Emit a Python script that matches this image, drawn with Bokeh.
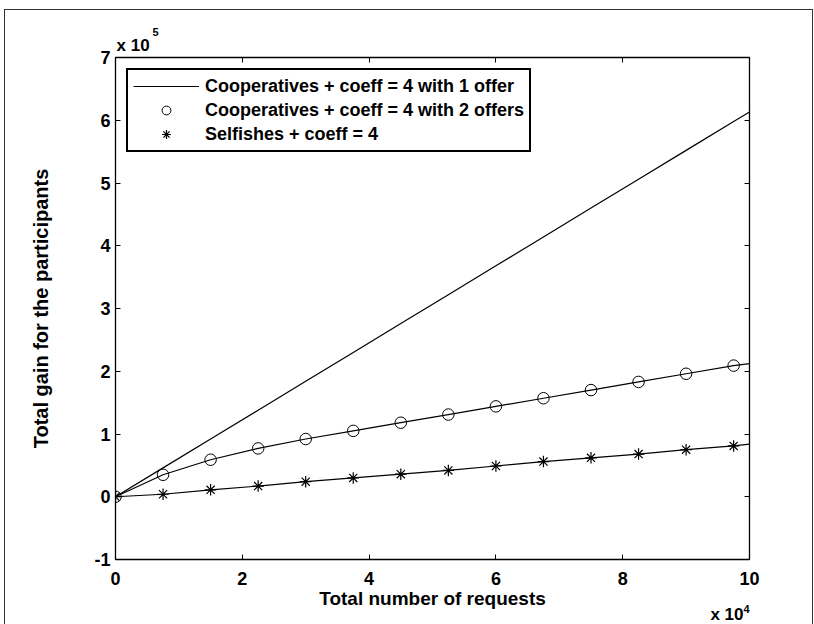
from bokeh.plotting import figure
from bokeh.models import Range1d, LinearAxis, Legend, LegendItem, Title, FixedTicker, CustomJSTickFormatter
from bokeh.embed import file_html
from bokeh.resources import INLINE

# ---- data (x in units of 1e4 requests, y in units of 1e5 gain) ----
x_line = [0, 0.75, 1.5, 2.25, 3, 3.75, 4.5, 5.25, 6, 6.75, 7.5, 8.25, 9, 9.75, 10]
coop_1offer = [0, 0.46, 0.92, 1.38, 1.84, 2.30, 2.76, 3.22, 3.68, 4.14, 4.60, 5.06, 5.52, 5.98, 6.13]

x_mark = [0, 0.75, 1.5, 2.25, 3, 3.75, 4.5, 5.25, 6, 6.75, 7.5, 8.25, 9, 9.75]
coop_2offers = [0, 0.35, 0.59, 0.77, 0.92, 1.05, 1.18, 1.31, 1.44, 1.57, 1.70, 1.83, 1.96, 2.09]
selfish = [0, 0.04, 0.11, 0.17, 0.24, 0.30, 0.36, 0.42, 0.49, 0.56, 0.62, 0.68, 0.75, 0.81]

x_fit = [0, 0.75, 1.5, 2.25, 3, 3.75, 4.5, 5.25, 6, 6.75, 7.5, 8.25, 9, 9.75, 10]
coop_2offers_fit = [0, 0.35, 0.59, 0.77, 0.92, 1.05, 1.18, 1.31, 1.44, 1.57, 1.70, 1.83, 1.96, 2.09, 2.12]
selfish_fit = [0, 0.04, 0.11, 0.17, 0.24, 0.30, 0.36, 0.42, 0.49, 0.56, 0.62, 0.68, 0.75, 0.81, 0.84]

x_ticks = [0, 2, 4, 6, 8, 10]
y_ticks = [-1, 0, 1, 2, 3, 4, 5, 6, 7]
y_tick_labels = {-1: "-1"}

labels = ["Cooperatives + coeff = 4 with 1 offer",
          "Cooperatives + coeff = 4 with 2 offers",
          "Selfishes + coeff = 4"]
exp_base = "x 10"
y_exp = "5"
x_exp = "4"

FONT = "Liberation Sans"

p = figure(width=807, height=614, x_range=Range1d(0, 10), y_range=Range1d(-1, 7),
           output_backend="svg", toolbar_location=None,
           min_border_left=110, min_border_right=63, min_border_top=47, min_border_bottom=65)
p.margin = (10, 0, 0, 5)
p.styles = {"outline": "1.5px solid #333333"}
p.background_fill_color = "white"
p.border_fill_color = "white"
p.grid.visible = False
p.outline_line_color = "black"
p.outline_line_width = 1.3

for ax in (p.xaxis[0], p.yaxis[0]):
    ax.major_tick_in = 5
    ax.major_tick_out = 0
    ax.minor_tick_line_color = None
    ax.axis_line_color = None
    ax.major_tick_line_color = "black"
    ax.major_label_text_font = FONT
    ax.major_label_text_font_style = "bold"
    ax.major_label_text_font_size = "18px"
    ax.major_label_text_color = "black"
    ax.axis_label_text_font = FONT
    ax.axis_label_text_font_style = "bold"
    ax.axis_label_text_color = "black"

p.xaxis[0].ticker = FixedTicker(ticks=x_ticks)
p.yaxis[0].ticker = FixedTicker(ticks=y_ticks)
p.yaxis[0].major_label_overrides = y_tick_labels
p.xaxis[0].axis_label = "Total number of requests"
p.yaxis[0].axis_label = "Total gain for the participants"
p.xaxis[0].axis_label_text_font_size = "19px"
p.yaxis[0].axis_label_text_font_size = "20px"
p.xaxis[0].major_label_standoff = 12
p.xaxis[0].axis_label_standoff = 0
p.yaxis[0].major_label_standoff = 5
p.yaxis[0].axis_label_standoff = 39

top_ax = LinearAxis(ticker=FixedTicker(ticks=x_ticks), formatter=CustomJSTickFormatter(code="return ''"))
right_ax = LinearAxis(ticker=FixedTicker(ticks=y_ticks), formatter=CustomJSTickFormatter(code="return ''"))
for ax in (top_ax, right_ax):
    ax.major_tick_in = 5
    ax.major_tick_out = 0
    ax.minor_tick_line_color = None
    ax.axis_line_color = None
    ax.major_label_text_font_size = "2px"
    ax.major_label_standoff = 0
p.add_layout(top_ax, "above")
p.add_layout(right_ax, "right")

r1 = p.line(x_line, coop_1offer, line_color="black", line_width=1.2)
p.line(x_fit, coop_2offers_fit, line_color="black", line_width=1.2)
p.line(x_fit, selfish_fit, line_color="black", line_width=1.2)
r2 = p.scatter(x_mark, coop_2offers, marker="circle", size=11.5, fill_color=None,
               line_color="black", line_width=1)
r3 = p.scatter(x_mark, selfish, marker="asterisk", size=11.5,
               line_color="black", line_width=1.2)

legend = Legend(items=[LegendItem(label=labels[0], renderers=[r1]),
                       LegendItem(label=labels[1], renderers=[r2]),
                       LegendItem(label=labels[2], renderers=[r3])],
                location="top_left")
legend.margin = 11
legend.padding = 5
legend.spacing = 2
legend.glyph_width = 66
legend.glyph_height = 22
legend.label_height = 22
legend.label_standoff = 6
legend.label_text_font = FONT
legend.label_text_font_style = "bold"
legend.label_text_font_size = "18px"
legend.label_text_color = "black"
legend.border_line_color = "black"
legend.border_line_alpha = 1
legend.border_line_width = 2
legend.background_fill_alpha = 1
p.add_layout(legend)

def title(text, align, offset, standoff, size, valign="bottom"):
    return Title(text=text, align=align, offset=offset, standoff=standoff,
                 vertical_align=valign,
                 text_font=FONT, text_font_style="bold", text_font_size=size,
                 text_color="black")

# MATLAB-style exponent labels in the side panels (stacked: superscript beyond base)
p.add_layout(title(exp_base, "left", 1, 5, "17px"), "above")
p.add_layout(title(y_exp, "left", 37, -8, "11px"), "above")
p.add_layout(title(x_exp, "right", 0, -14, "11px", "top"), "below")
p.add_layout(title(exp_base, "right", 6, -13, "17px", "top"), "below")

open("out.html", "w").write(file_html(p, INLINE))
